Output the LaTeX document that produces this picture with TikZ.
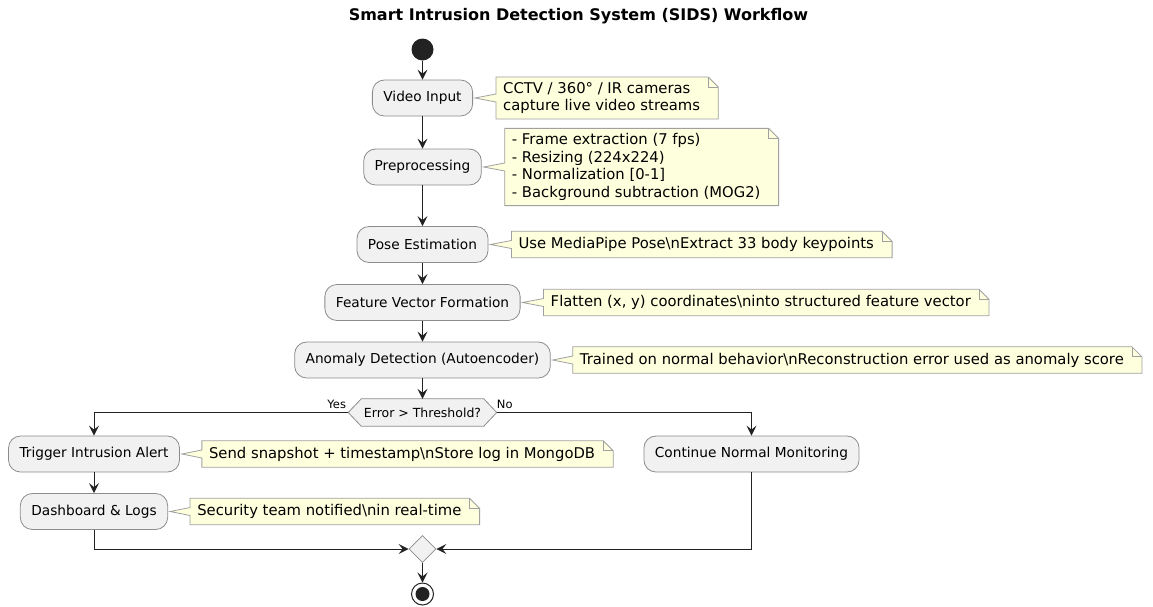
\documentclass[tikz,border=0pt]{standalone}
\usepackage{fontspec}
\setmainfont{DejaVu Sans}
\usetikzlibrary{positioning,shapes.geometric,arrows.meta,backgrounds}

\definecolor{actfill}{HTML}{F1F1F1}
\definecolor{actline}{HTML}{8C8C8C}
\definecolor{notefill}{HTML}{FEFFDD}
\definecolor{noteline}{HTML}{A0A0A0}
\definecolor{flowline}{HTML}{222222}

\tikzset{
  act/.style={draw=actline, fill=actfill, line width=0.8pt, rounded corners=12pt,
    minimum height=36pt, inner xsep=11pt, font=\fontsize{13.7}{16}\selectfont},
  note/.style={align=left, inner xsep=7pt, inner ysep=5pt, minimum height=26pt,
    font=\fontsize{14.8}{17.5}\selectfont},
  notebg/.style={draw=noteline, fill=notefill, line width=0.8pt},
  flow/.style={draw=flowline, line width=1pt, -{Stealth[length=10pt,width=10pt,inset=4pt]}},
  lbl/.style={inner sep=0pt, font=\fontsize{11.5}{13}\selectfont},
}

% note outline: #1 note node, #2 activity it points at
\newcommand\drawnote[2]{%
  \begin{scope}[on background layer]
    \filldraw[notebg] (#1.north west) -- ([xshift=1pt]#1.north east)
      -- ([xshift=11pt,yshift=-10pt]#1.north east) -- ([xshift=11pt]#1.south east)
      -- (#1.south west) -- ([yshift=-4pt]#1.west) -- ([xshift=2pt]#2.east)
      -- ([yshift=4pt]#1.west) -- cycle;
    \draw[notebg, fill=none] ([xshift=1pt]#1.north east) |- ([xshift=11pt,yshift=-10pt]#1.north east);
  \end{scope}}

\begin{document}
\begin{tikzpicture}[x=1pt, y=-1pt]
\useasboundingbox (0,0) rectangle (1153,606);
\draw (578.5,16.5) node [font=\bfseries\fontsize{16}{18}\selectfont] (title) {Smart Intrusion Detection System (SIDS) Workflow};

% main column
\draw (422.5,49.5) node [circle, fill=flowline, minimum size=22pt, inner sep=0pt] (start) {};
\draw (422.5,98) node [act] (video) {Video Input};
\draw (422.5,167) node [act] (prep) {Preprocessing};
\draw (422.5,244.5) node [act] (pose) {Pose Estimation};
\draw (422.5,302.5) node [act] (feat) {Feature Vector Formation};
\draw (422.5,360) node [act] (anom) {Anomaly Detection (Autoencoder)};
\draw (422.5,412.5) node [inner xsep=15.5pt, minimum height=27pt, font=\fontsize{12.5}{14}\selectfont] (thresh) {Error > Threshold?};
\draw (94,454) node [act] (alert) {Trigger Intrusion Alert};
\draw (751.5,454) node [act] (cont) {Continue Normal Monitoring};
\draw (94,511.5) node [act] (dash) {Dashboard \& Logs};
\draw (422.5,549) node [diamond, draw=actline, fill=actfill, line width=0.8pt, minimum width=27pt, minimum height=27pt, inner sep=0pt] (merge) {};
\draw (422.5,594) node [circle, draw=flowline, fill=white, line width=1pt, minimum size=22pt, inner sep=0pt] (stop) {};
\fill [flowline] (stop.center) circle (7pt);

\begin{scope}[on background layer]
\filldraw [draw=actline, fill=actfill, line width=0.8pt] (thresh.west) -- ([xshift=13pt]thresh.north west)
  -- ([xshift=-13pt]thresh.north east) -- (thresh.east) -- ([xshift=-13pt]thresh.south east)
  -- ([xshift=13pt]thresh.south west) -- cycle;
\end{scope}
\draw (thresh.west) node [lbl, anchor=base east, xshift=-2pt, yshift=4pt] (yes) {Yes};
\draw (thresh.east) node [lbl, anchor=base west, xshift=0pt, yshift=4pt] (no) {No};

% notes
\node [note, right=23pt of video] (nvideo) {CCTV / 360° / IR cameras\\capture live video streams};
\node [note, right=23pt of prep] (nprep) {- Frame extraction (7 fps)\\- Resizing (224x224)\\- Normalization [0-1]\\- Background subtraction (MOG2)};
\node [note, right=23pt of pose] (npose) {Use MediaPipe Pose\textbackslash nExtract 33 body keypoints};
\node [note, right=23pt of feat] (nfeat) {Flatten (x, y) coordinates\textbackslash ninto structured feature vector};
\node [note, right=22pt of anom] (nanom) {Trained on normal behavior\textbackslash nReconstruction error used as anomaly score};
\node [note, right=22pt of alert] (nalert) {Send snapshot + timestamp\textbackslash nStore log in MongoDB};
\node [note, right=22pt of dash] (ndash) {Security team notified\textbackslash nin real-time};
\drawnote{nvideo}{video}
\drawnote{nprep}{prep}
\drawnote{npose}{pose}
\drawnote{nfeat}{feat}
\drawnote{nanom}{anom}
\drawnote{nalert}{alert}
\drawnote{ndash}{dash}

% flow
\draw [flow] (start) -- (video);
\draw [flow] (video) -- (prep);
\draw [flow] (prep) -- (pose);
\draw [flow] (pose) -- (feat);
\draw [flow] (feat) -- (anom);
\draw [flow] (anom) -- (thresh);
\draw [flow] (thresh.west) -| (alert);
\draw [flow] (thresh.east) -| (cont);
\draw [flow] (alert) -- (dash);
\draw [flow] (dash) |- (merge);
\draw [flow] (cont) |- (merge);
\draw [flow] (merge) -- (stop);
\end{tikzpicture}
\end{document}
